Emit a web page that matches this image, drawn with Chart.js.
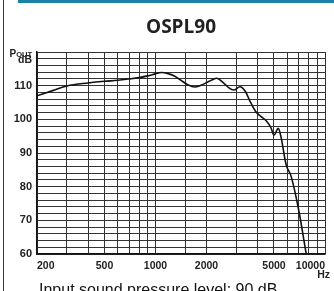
<!DOCTYPE html>
<html><head><meta charset="utf-8">
<script src="https://cdn.jsdelivr.net/npm/chart.js@4/dist/chart.umd.min.js"></script>
<style>html,body{margin:0;padding:0;background:#fff;overflow:hidden}</style>
</head><body>
<canvas id="c" width="334" height="291"></canvas>
<script>
const chartTitle = 'OSPL90';
const yUnitMain = 'P';
const yUnitSub = 'OUT';
const yUnit2 = 'dB';
const xUnit = 'Hz';
const footnote = 'Input sound pressure level: 90 dB';

const frequencyHz = [200, 250, 300, 400, 500, 600, 700, 800, 900, 1000, 1080, 1200, 1300, 1400, 1550, 1700, 1850, 2000, 2150, 2300, 2500, 2700, 2900, 3150, 3400, 3600, 3900, 4200, 4500, 4800, 5000, 5300, 5500, 5900, 6300, 7000, 7750];
const outputDb   = [107.0, 108.6, 109.9, 110.8, 111.3, 111.6, 112.0, 112.4, 112.9, 113.5, 113.9, 113.5, 112.8, 111.7, 110.3, 109.6, 110.1, 110.9, 111.7, 112.2, 111.0, 109.4, 108.7, 109.7, 108.2, 105.5, 102.3, 100.8, 99.6, 97.5, 95.3, 97.3, 94.8, 86.5, 83.2, 73.0, 60.0];

const xGridHz = [200, 300, 400, 500, 600, 700, 800, 900, 1000, 1500, 2000, 3000, 4000, 5000, 6000, 7000, 8000, 9000, 10000];
const xLabelHz = [200, 500, 1000, 2000, 5000, 10000];
const yLabelDb = [60, 70, 80, 90, 100, 110];

const tickFont = '"Liberation Sans", Arial, sans-serif';

const decor = {
  id: 'decor',
  afterDraw(chart) {
    const ctx = chart.ctx;
    ctx.save();
    ctx.fillStyle = '#3a3a3a';
    ctx.fillRect(3, 0, 1, 291);
    ctx.fillStyle = '#1a80a6';
    ctx.fillRect(18, 0, 316, 3);
    ctx.fillStyle = '#222';
    ctx.font = 'bold 19px "Open Sans", sans-serif';
    ctx.textAlign = 'center';
    ctx.textBaseline = 'alphabetic';
    ctx.fillText(chartTitle, 181, 33);
    ctx.textAlign = 'right';
    ctx.font = 'bold 7.5px ' + tickFont;
    const wSub = ctx.measureText(yUnitSub).width;
    ctx.fillText(yUnitSub, 32, 56.5);
    ctx.font = 'bold 10px ' + tickFont;
    ctx.fillText(yUnitMain, 32 - wSub, 56.5);
    ctx.font = 'bold 10.5px ' + tickFont;
    ctx.fillText(yUnit2, 32, 63);
    ctx.fillText(xUnit, 330, 278);
    ctx.textAlign = 'left';
    ctx.font = '16px "Liberation Sans", Arial, sans-serif';
    ctx.fillStyle = '#111';
    ctx.fillText(footnote, 39, 295);
    ctx.restore();
  }
};

new Chart(document.getElementById('c'), {
  type: 'line',
  data: {
    datasets: [{
      data: frequencyHz.map((f, i) => ({x: f, y: outputDb[i]})),
      borderColor: '#111',
      borderWidth: 1.6,
      pointRadius: 0,
      cubicInterpolationMode: 'monotone',
      fill: false
    }]
  },
  options: {
    responsive: false,
    animation: false,
    devicePixelRatio: 1,
    layout: {padding: {top: 52, right: 9, left: 0, bottom: 0}},
    plugins: {legend: {display: false}, tooltip: {enabled: false}, title: {display: false}},
    scales: {
      x: {
        type: 'logarithmic',
        min: 200, max: 10000,
        afterBuildTicks: s => { s.ticks = xGridHz.map(v => ({value: v})); },
        afterFit: s => { s.height = 37; },
        ticks: {
          autoSkip: false, maxRotation: 0, minRotation: 0, align: 'inner', padding: 6,
          color: '#222',
          font: {family: tickFont, weight: 'bold', size: 10.5},
          callback: v => xLabelHz.includes(v) ? String(v) : ''
        },
        grid: {color: '#333', lineWidth: 1, drawTicks: false},
        border: {color: '#111', width: 1.5}
      },
      y: {
        type: 'linear',
        min: 60, max: 120,
        afterFit: s => { s.width = 37; },
        ticks: {
          stepSize: 2, autoSkip: false, padding: 5,
          color: '#222',
          font: {family: tickFont, weight: 'bold', size: 11},
          callback: v => yLabelDb.includes(v) ? String(v) : ''
        },
        grid: {color: '#333', lineWidth: 1, drawTicks: false},
        border: {color: '#111', width: 1.5}
      }
    }
  },
  plugins: [decor]
});
</script>
</body></html>
